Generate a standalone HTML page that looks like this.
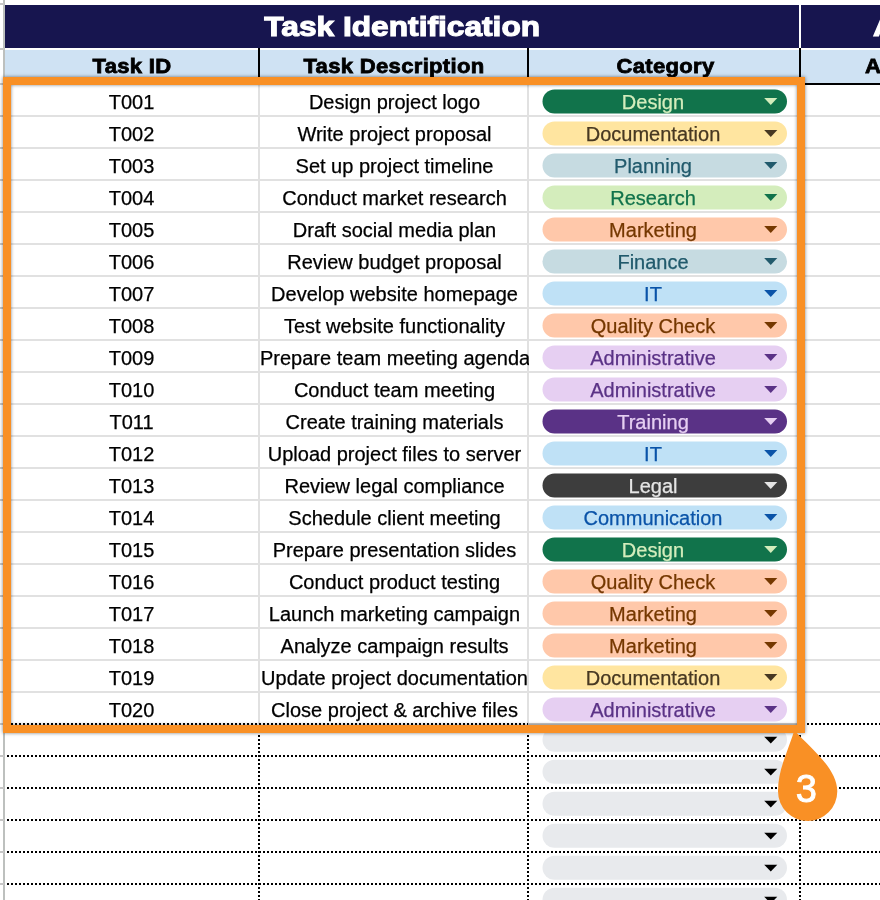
<!DOCTYPE html><html lang="en"><head><meta charset="utf-8"><title>Task Identification</title><style>
*{box-sizing:border-box;margin:0;padding:0}
html,body{width:880px;height:900px;overflow:hidden;background:#fff}
body{position:relative;font-family:"Liberation Sans",Arial,sans-serif;color:#000}
.a{position:absolute}
.navy{background:#17154f}
.sub{background:#cfe2f3}
.h1{color:#fff;font-weight:bold;font-size:27.5px;line-height:43px;text-align:center;white-space:nowrap;-webkit-text-stroke:1.1px #fff;transform:translate(0.2px,0.4px) scaleX(1.152);transform-origin:50% 50%}
.h2{color:#000;font-weight:bold;font-size:21px;line-height:26px;text-align:center;white-space:nowrap;-webkit-text-stroke:0.8px #000;letter-spacing:0.3px;transform:translateY(0.45px) scaleX(1.05) rotate(0.02deg)}
.c{font-size:20px;line-height:32px;height:32px;text-align:center;white-space:nowrap;overflow:hidden;-webkit-text-stroke:0.25px #000;transform:translateY(-0.5px)}
.gl{background:#e1e1e1}
.pt{left:543px;width:220px;text-align:center;font-size:20px;line-height:24px;height:24px;white-space:nowrap;-webkit-text-stroke-width:0.25px;transform:translateY(-0.5px)}
.dh{height:2px;background-image:linear-gradient(90deg,#000 50%,transparent 50%);background-size:4px 2px}
.dv{width:2px;background-image:linear-gradient(180deg,#000 50%,transparent 50%);background-size:2px 4px}
</style></head><body>
<div class="a" style="left:3px;top:0;width:2px;height:900px;background:#bdc0be"></div>
<div class="a" style="left:0;top:3px;width:4px;height:2px;background:#c6c6c6"></div>
<div class="a" style="left:0;top:48px;width:4px;height:2px;background:#c6c6c6"></div>
<div class="a" style="left:0;top:83px;width:4px;height:2px;background:#c6c6c6"></div>
<div class="a" style="left:0;top:115px;width:4px;height:2px;background:#c6c6c6"></div>
<div class="a" style="left:0;top:147px;width:4px;height:2px;background:#c6c6c6"></div>
<div class="a" style="left:0;top:179px;width:4px;height:2px;background:#c6c6c6"></div>
<div class="a" style="left:0;top:211px;width:4px;height:2px;background:#c6c6c6"></div>
<div class="a" style="left:0;top:243px;width:4px;height:2px;background:#c6c6c6"></div>
<div class="a" style="left:0;top:275px;width:4px;height:2px;background:#c6c6c6"></div>
<div class="a" style="left:0;top:307px;width:4px;height:2px;background:#c6c6c6"></div>
<div class="a" style="left:0;top:339px;width:4px;height:2px;background:#c6c6c6"></div>
<div class="a" style="left:0;top:371px;width:4px;height:2px;background:#c6c6c6"></div>
<div class="a" style="left:0;top:403px;width:4px;height:2px;background:#c6c6c6"></div>
<div class="a" style="left:0;top:435px;width:4px;height:2px;background:#c6c6c6"></div>
<div class="a" style="left:0;top:467px;width:4px;height:2px;background:#c6c6c6"></div>
<div class="a" style="left:0;top:499px;width:4px;height:2px;background:#c6c6c6"></div>
<div class="a" style="left:0;top:531px;width:4px;height:2px;background:#c6c6c6"></div>
<div class="a" style="left:0;top:563px;width:4px;height:2px;background:#c6c6c6"></div>
<div class="a" style="left:0;top:595px;width:4px;height:2px;background:#c6c6c6"></div>
<div class="a" style="left:0;top:627px;width:4px;height:2px;background:#c6c6c6"></div>
<div class="a" style="left:0;top:659px;width:4px;height:2px;background:#c6c6c6"></div>
<div class="a" style="left:0;top:691px;width:4px;height:2px;background:#c6c6c6"></div>
<div class="a" style="left:0;top:723px;width:4px;height:2px;background:#c6c6c6"></div>
<div class="a" style="left:0;top:755px;width:4px;height:2px;background:#c6c6c6"></div>
<div class="a" style="left:0;top:787px;width:4px;height:2px;background:#c6c6c6"></div>
<div class="a" style="left:0;top:819px;width:4px;height:2px;background:#c6c6c6"></div>
<div class="a" style="left:0;top:851px;width:4px;height:2px;background:#c6c6c6"></div>
<div class="a" style="left:0;top:883px;width:4px;height:2px;background:#c6c6c6"></div>
<div class="a navy" style="left:5px;top:5px;width:794px;height:43px"><div class="h1" id="h1">Task Identification</div></div>
<div class="a navy" style="left:801px;top:5px;width:79px;height:43px;overflow:hidden"><div class="h1 a" style="left:71.5px;top:0;transform-origin:0 50%;transform:translateY(0.4px) scaleX(1.16)">Assignment</div></div>
<div class="a sub" style="left:5px;top:50px;width:875px;height:34px"></div>
<div class="a h2" style="left:5px;top:53px;width:254px">Task ID</div>
<div class="a h2" style="left:260px;top:53px;width:268px">Task Description</div>
<div class="a h2" style="left:530px;top:53px;width:271px">Category</div>
<div class="a h2" style="left:865px;top:53px;text-align:left;transform-origin:0 50%">Assigned To</div>
<div class="a" style="left:258px;top:48px;width:2px;height:36px;background:#000"></div>
<div class="a" style="left:527px;top:48px;width:2px;height:36px;background:#000"></div>
<div class="a" style="left:799px;top:48px;width:2px;height:36px;background:#000"></div>
<div class="a" style="left:800px;top:83px;width:80px;height:2px;background:#000"></div>
<div class="a gl" style="left:5px;top:115px;width:875px;height:2px"></div>
<div class="a gl" style="left:5px;top:147px;width:875px;height:2px"></div>
<div class="a gl" style="left:5px;top:179px;width:875px;height:2px"></div>
<div class="a gl" style="left:5px;top:211px;width:875px;height:2px"></div>
<div class="a gl" style="left:5px;top:243px;width:875px;height:2px"></div>
<div class="a gl" style="left:5px;top:275px;width:875px;height:2px"></div>
<div class="a gl" style="left:5px;top:307px;width:875px;height:2px"></div>
<div class="a gl" style="left:5px;top:339px;width:875px;height:2px"></div>
<div class="a gl" style="left:5px;top:371px;width:875px;height:2px"></div>
<div class="a gl" style="left:5px;top:403px;width:875px;height:2px"></div>
<div class="a gl" style="left:5px;top:435px;width:875px;height:2px"></div>
<div class="a gl" style="left:5px;top:467px;width:875px;height:2px"></div>
<div class="a gl" style="left:5px;top:499px;width:875px;height:2px"></div>
<div class="a gl" style="left:5px;top:531px;width:875px;height:2px"></div>
<div class="a gl" style="left:5px;top:563px;width:875px;height:2px"></div>
<div class="a gl" style="left:5px;top:595px;width:875px;height:2px"></div>
<div class="a gl" style="left:5px;top:627px;width:875px;height:2px"></div>
<div class="a gl" style="left:5px;top:659px;width:875px;height:2px"></div>
<div class="a gl" style="left:5px;top:691px;width:875px;height:2px"></div>
<div class="a gl" style="left:258px;top:84px;width:2px;height:640px"></div>
<div class="a gl" style="left:527px;top:84px;width:2px;height:640px"></div>
<div class="a c" style="left:5px;top:86px;width:253px">T001</div>
<div class="a c" style="left:259px;top:86px;width:270px;padding-left:1px">Design project logo</div>
<div class="a c" style="left:5px;top:118px;width:253px">T002</div>
<div class="a c" style="left:259px;top:118px;width:270px;padding-left:1px">Write project proposal</div>
<div class="a c" style="left:5px;top:150px;width:253px">T003</div>
<div class="a c" style="left:259px;top:150px;width:270px;padding-left:1px">Set up project timeline</div>
<div class="a c" style="left:5px;top:182px;width:253px">T004</div>
<div class="a c" style="left:259px;top:182px;width:270px;padding-left:1px">Conduct market research</div>
<div class="a c" style="left:5px;top:214px;width:253px">T005</div>
<div class="a c" style="left:259px;top:214px;width:270px;padding-left:1px">Draft social media plan</div>
<div class="a c" style="left:5px;top:246px;width:253px">T006</div>
<div class="a c" style="left:259px;top:246px;width:270px;padding-left:1px">Review budget proposal</div>
<div class="a c" style="left:5px;top:278px;width:253px">T007</div>
<div class="a c" style="left:259px;top:278px;width:270px;padding-left:1px">Develop website homepage</div>
<div class="a c" style="left:5px;top:310px;width:253px">T008</div>
<div class="a c" style="left:259px;top:310px;width:270px;padding-left:1px">Test website functionality</div>
<div class="a c" style="left:5px;top:342px;width:253px">T009</div>
<div class="a c" style="left:259px;top:342px;width:270px;padding-left:1px">Prepare team meeting agenda</div>
<div class="a c" style="left:5px;top:374px;width:253px">T010</div>
<div class="a c" style="left:259px;top:374px;width:270px;padding-left:1px">Conduct team meeting</div>
<div class="a c" style="left:5px;top:406px;width:253px">T011</div>
<div class="a c" style="left:259px;top:406px;width:270px;padding-left:1px">Create training materials</div>
<div class="a c" style="left:5px;top:438px;width:253px">T012</div>
<div class="a c" style="left:259px;top:438px;width:270px;padding-left:1px">Upload project files to server</div>
<div class="a c" style="left:5px;top:470px;width:253px">T013</div>
<div class="a c" style="left:259px;top:470px;width:270px;padding-left:1px">Review legal compliance</div>
<div class="a c" style="left:5px;top:502px;width:253px">T014</div>
<div class="a c" style="left:259px;top:502px;width:270px;padding-left:1px">Schedule client meeting</div>
<div class="a c" style="left:5px;top:534px;width:253px">T015</div>
<div class="a c" style="left:259px;top:534px;width:270px;padding-left:1px">Prepare presentation slides</div>
<div class="a c" style="left:5px;top:566px;width:253px">T016</div>
<div class="a c" style="left:259px;top:566px;width:270px;padding-left:1px">Conduct product testing</div>
<div class="a c" style="left:5px;top:598px;width:253px">T017</div>
<div class="a c" style="left:259px;top:598px;width:270px;padding-left:1px">Launch marketing campaign</div>
<div class="a c" style="left:5px;top:630px;width:253px">T018</div>
<div class="a c" style="left:259px;top:630px;width:270px;padding-left:1px">Analyze campaign results</div>
<div class="a c" style="left:5px;top:662px;width:253px">T019</div>
<div class="a c" style="left:259px;top:662px;width:270px;padding-left:1px">Update project documentation</div>
<div class="a c" style="left:5px;top:694px;width:253px">T020</div>
<div class="a c" style="left:259px;top:694px;width:270px;padding-left:1px">Close project &amp; archive files</div>
<div class="a dh" style="left:7px;top:723px;width:521px"></div>
<div class="a" style="left:528px;top:723px;width:272px;height:2px;background:#c9c9c9"></div>
<div class="a dh" style="left:803px;top:723px;width:77px"></div>
<div class="a dh" style="left:7px;top:755px;width:873px"></div>
<div class="a dh" style="left:7px;top:787px;width:873px"></div>
<div class="a dh" style="left:7px;top:819px;width:873px"></div>
<div class="a dh" style="left:7px;top:851px;width:873px"></div>
<div class="a dh" style="left:7px;top:883px;width:873px"></div>
<div class="a dv" style="left:258px;top:727px;height:173px"></div>
<div class="a dv" style="left:527px;top:727px;height:173px"></div>
<div class="a dv" style="left:799px;top:727px;height:173px"></div>
<svg class="a" style="left:0;top:0" width="880" height="900" viewBox="0 0 880 900"><rect x="542.5" y="89.5" width="244.5" height="24" rx="12" fill="#11734b"/><path d="M764.2 98.1 H777.3 L770.75 104.9 Z" fill="#d4edbc"/><rect x="542.5" y="121.5" width="244.5" height="24" rx="12" fill="#ffe5a0"/><path d="M764.2 130.1 H777.3 L770.75 136.9 Z" fill="#473822"/><rect x="542.5" y="153.5" width="244.5" height="24" rx="12" fill="#c6dbe1"/><path d="M764.2 162.1 H777.3 L770.75 168.9 Z" fill="#215a6c"/><rect x="542.5" y="185.5" width="244.5" height="24" rx="12" fill="#d4edbc"/><path d="M764.2 194.1 H777.3 L770.75 200.9 Z" fill="#11734b"/><rect x="542.5" y="217.5" width="244.5" height="24" rx="12" fill="#ffc8aa"/><path d="M764.2 226.1 H777.3 L770.75 232.9 Z" fill="#753800"/><rect x="542.5" y="249.5" width="244.5" height="24" rx="12" fill="#c6dbe1"/><path d="M764.2 258.1 H777.3 L770.75 264.9 Z" fill="#215a6c"/><rect x="542.5" y="281.5" width="244.5" height="24" rx="12" fill="#bfe1f6"/><path d="M764.2 290.1 H777.3 L770.75 296.9 Z" fill="#0a53a8"/><rect x="542.5" y="313.5" width="244.5" height="24" rx="12" fill="#ffc8aa"/><path d="M764.2 322.1 H777.3 L770.75 328.9 Z" fill="#753800"/><rect x="542.5" y="345.5" width="244.5" height="24" rx="12" fill="#e6cff2"/><path d="M764.2 354.1 H777.3 L770.75 360.9 Z" fill="#5a3286"/><rect x="542.5" y="377.5" width="244.5" height="24" rx="12" fill="#e6cff2"/><path d="M764.2 386.1 H777.3 L770.75 392.9 Z" fill="#5a3286"/><rect x="542.5" y="409.5" width="244.5" height="24" rx="12" fill="#5a3286"/><path d="M764.2 418.1 H777.3 L770.75 424.9 Z" fill="#e6cff2"/><rect x="542.5" y="441.5" width="244.5" height="24" rx="12" fill="#bfe1f6"/><path d="M764.2 450.1 H777.3 L770.75 456.9 Z" fill="#0a53a8"/><rect x="542.5" y="473.5" width="244.5" height="24" rx="12" fill="#3d3d3d"/><path d="M764.2 482.1 H777.3 L770.75 488.9 Z" fill="#e5e5e5"/><rect x="542.5" y="505.5" width="244.5" height="24" rx="12" fill="#bfe1f6"/><path d="M764.2 514.1 H777.3 L770.75 520.9 Z" fill="#0a53a8"/><rect x="542.5" y="537.5" width="244.5" height="24" rx="12" fill="#11734b"/><path d="M764.2 546.1 H777.3 L770.75 552.9 Z" fill="#d4edbc"/><rect x="542.5" y="569.5" width="244.5" height="24" rx="12" fill="#ffc8aa"/><path d="M764.2 578.1 H777.3 L770.75 584.9 Z" fill="#753800"/><rect x="542.5" y="601.5" width="244.5" height="24" rx="12" fill="#ffc8aa"/><path d="M764.2 610.1 H777.3 L770.75 616.9 Z" fill="#753800"/><rect x="542.5" y="633.5" width="244.5" height="24" rx="12" fill="#ffc8aa"/><path d="M764.2 642.1 H777.3 L770.75 648.9 Z" fill="#753800"/><rect x="542.5" y="665.5" width="244.5" height="24" rx="12" fill="#ffe5a0"/><path d="M764.2 674.1 H777.3 L770.75 680.9 Z" fill="#473822"/><rect x="542.5" y="697.5" width="244.5" height="24" rx="12" fill="#e6cff2"/><path d="M764.2 706.1 H777.3 L770.75 712.9 Z" fill="#5a3286"/><rect x="542.5" y="727.75" width="244.5" height="24" rx="12" fill="#e8eaed"/><path d="M764.2 736.8 H777.3 L770.75 743.4 Z" fill="#000"/><rect x="542.5" y="759.75" width="244.5" height="24" rx="12" fill="#e8eaed"/><path d="M764.2 768.8 H777.3 L770.75 775.4 Z" fill="#000"/><rect x="542.5" y="791.75" width="244.5" height="24" rx="12" fill="#e8eaed"/><path d="M764.2 800.8 H777.3 L770.75 807.4 Z" fill="#000"/><rect x="542.5" y="823.75" width="244.5" height="24" rx="12" fill="#e8eaed"/><path d="M764.2 832.8 H777.3 L770.75 839.4 Z" fill="#000"/><rect x="542.5" y="855.75" width="244.5" height="24" rx="12" fill="#e8eaed"/><path d="M764.2 864.8 H777.3 L770.75 871.4 Z" fill="#000"/><rect x="542.5" y="887.75" width="244.5" height="24" rx="12" fill="#e8eaed"/><path d="M764.2 896.8 H777.3 L770.75 903.4 Z" fill="#000"/></svg>
<div class="a pt" style="top:90px;color:#d4edbc;-webkit-text-stroke-color:#d4edbc">Design</div>
<div class="a pt" style="top:122px;color:#473822;-webkit-text-stroke-color:#473822">Documentation</div>
<div class="a pt" style="top:154px;color:#215a6c;-webkit-text-stroke-color:#215a6c">Planning</div>
<div class="a pt" style="top:186px;color:#11734b;-webkit-text-stroke-color:#11734b">Research</div>
<div class="a pt" style="top:218px;color:#753800;-webkit-text-stroke-color:#753800">Marketing</div>
<div class="a pt" style="top:250px;color:#215a6c;-webkit-text-stroke-color:#215a6c">Finance</div>
<div class="a pt" style="top:282px;color:#0a53a8;-webkit-text-stroke-color:#0a53a8">IT</div>
<div class="a pt" style="top:314px;color:#753800;-webkit-text-stroke-color:#753800">Quality Check</div>
<div class="a pt" style="top:346px;color:#5a3286;-webkit-text-stroke-color:#5a3286">Administrative</div>
<div class="a pt" style="top:378px;color:#5a3286;-webkit-text-stroke-color:#5a3286">Administrative</div>
<div class="a pt" style="top:410px;color:#e6cff2;-webkit-text-stroke-color:#e6cff2">Training</div>
<div class="a pt" style="top:442px;color:#0a53a8;-webkit-text-stroke-color:#0a53a8">IT</div>
<div class="a pt" style="top:474px;color:#e5e5e5;-webkit-text-stroke-color:#e5e5e5">Legal</div>
<div class="a pt" style="top:506px;color:#0a53a8;-webkit-text-stroke-color:#0a53a8">Communication</div>
<div class="a pt" style="top:538px;color:#d4edbc;-webkit-text-stroke-color:#d4edbc">Design</div>
<div class="a pt" style="top:570px;color:#753800;-webkit-text-stroke-color:#753800">Quality Check</div>
<div class="a pt" style="top:602px;color:#753800;-webkit-text-stroke-color:#753800">Marketing</div>
<div class="a pt" style="top:634px;color:#753800;-webkit-text-stroke-color:#753800">Marketing</div>
<div class="a pt" style="top:666px;color:#473822;-webkit-text-stroke-color:#473822">Documentation</div>
<div class="a pt" style="top:698px;color:#5a3286;-webkit-text-stroke-color:#5a3286">Administrative</div>
<div class="a" style="left:3px;top:77px;width:802px;height:656px;border:8px solid #f99025;box-shadow:0 0 3.5px rgba(0,0,0,.5), inset 0 0 3.5px rgba(0,0,0,.5)"></div>
<svg class="a" style="left:0;top:0" width="880" height="900" viewBox="0 0 880 900"><path d="M794.3 730.4 C812.2 749.4 837.3 769 837.3 791.3 A29.65 29.65 0 0 1 778 791.3 C778 771.4 784.9 758.7 794.3 730.4 Z" fill="#f99025"/><text x="806.3" y="801.8" font-family="Liberation Sans, Arial, sans-serif" font-size="38" fill="#fff" stroke="#fff" stroke-width="0.9" text-anchor="middle">3</text></svg>
</body></html>
